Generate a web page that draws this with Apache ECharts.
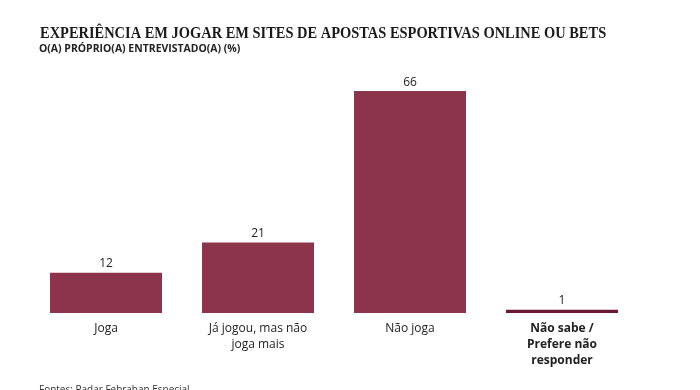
<!DOCTYPE html>
<html><head><meta charset="utf-8">
<script src="https://cdn.jsdelivr.net/npm/echarts@6/dist/echarts.min.js"></script>
<style>html,body{margin:0;padding:0;background:#fff}#c{width:700px;height:390px}</style>
</head><body><div id="c"></div>
<script>
const categories = ['Joga', 'Já jogou, mas não\njoga mais', 'Não joga', 'Não sabe /\nPrefere não\nresponder'];
const values = [12, 21, 66, 1];
const barColors = ['#8c344c', '#8c344c', '#8c344c', '#6a1833'];
const titleText = 'EXPERIÊNCIA EM JOGAR EM SITES DE APOSTAS ESPORTIVAS ONLINE OU BETS';
const subtitleText = 'O(A) PRÓPRIO(A) ENTREVISTADO(A) (%)';
const sourceText = 'Fontes: Radar Febraban Especial';

const chart = echarts.init(document.getElementById('c'), null, {renderer: 'canvas'});
chart.setOption({
  backgroundColor: '#fff',
  animation: false,
  graphic: [
    {type: 'text', x: 40, y: 25, scaleX: 0.875, style: {text: titleText, fill: '#1a1a1a', font: 'bold 16.5px "Liberation Serif"', verticalAlign: 'top'}},
    {type: 'text', x: 39, y: 43, scaleX: 0.95, style: {text: subtitleText, fill: '#222', font: 'bold 11px "Open Sans"', verticalAlign: 'top'}},
    {type: 'text', x: 39, y: 385, scaleX: 0.95, style: {text: sourceText, fill: '#333', font: '10.5px "Open Sans"', verticalAlign: 'top'}}
  ],
  grid: {left: 30, right: 62, top: 80, bottom: 77, containLabel: false},
  xAxis: {
    type: 'category', data: categories,
    axisLine: {show: false}, axisTick: {show: false},
    axisLabel: {
      interval: 0, margin: 8, color: '#222', fontFamily: 'Open Sans', fontSize: 12, lineHeight: 16,
      formatter: function (v, i) { return i === 3 ? '{b|' + v.split('\n').join('}\n{b|') + '}' : v; },
      rich: {b: {fontWeight: 'bold', fontFamily: 'Open Sans', fontSize: 12, lineHeight: 16, color: '#222'}}
    }
  },
  yAxis: {type: 'value', min: 0, max: 69.3, show: false, splitLine: {show: false}},
  series: [{
    type: 'bar', barWidth: 112,
    data: values.map((v, i) => ({value: v, itemStyle: {color: barColors[i]}})),
    label: {show: true, position: 'top', distance: 3, color: '#222', fontFamily: 'Open Sans', fontSize: 12}
  }]
});
</script></body></html>
